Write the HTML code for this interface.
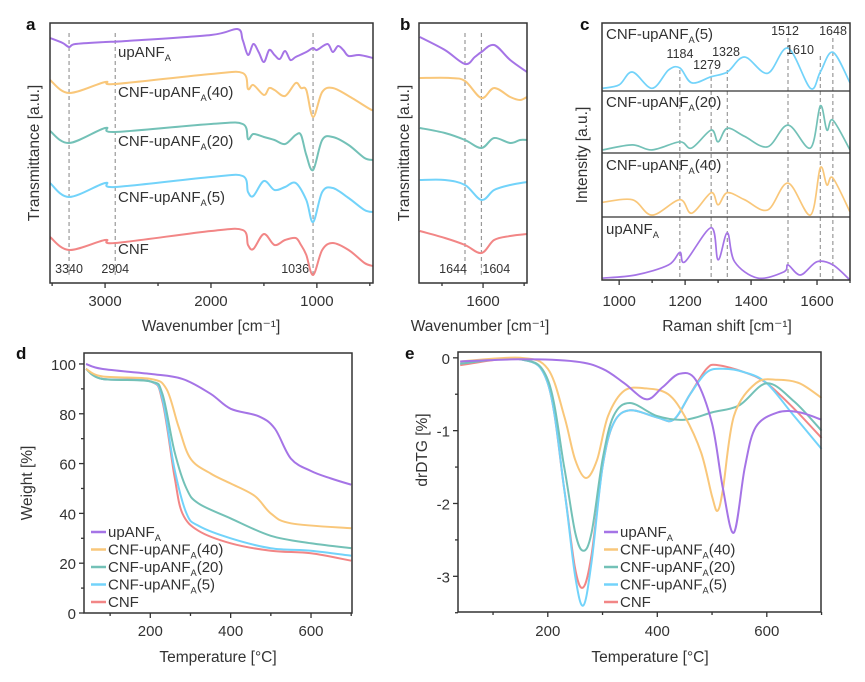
<!DOCTYPE html>
<html><head><meta charset="utf-8">
<style>
html,body{margin:0;padding:0;background:#fff;}
svg{display:block;font-family:"Liberation Sans",Arial,sans-serif;}
</style></head>
<body>
<svg id="fig" width="865" height="682" viewBox="0 0 865 682" xmlns="http://www.w3.org/2000/svg"></svg>
<script>
// ---------- DATA ----------
const aWave = {
 upANF:[[3520,24.5],[3400,24.0],[3340,23.6],[3280,23.9],[3000,24.1],[2800,24.2],[2000,24.8],[1750,25.4],[1700,24.3],[1650,22.8],[1600,23.9],[1550,23.1],[1500,22.1],[1450,23.3],[1400,22.8],[1350,22.4],[1300,23.2],[1250,22.3],[1200,22.6],[1100,23.1],[1036,23.5],[1000,23.3],[900,23.9],[850,23.1],[800,23.7],[750,23.3],[700,22.7],[600,22.8],[470,22.5]],
 c40:[[3520,20.3],[3340,19.0],[3000,20.1],[2904,19.9],[2000,20.9],[1700,21.0],[1650,19.4],[1600,19.8],[1500,18.8],[1450,19.5],[1400,19.3],[1300,18.7],[1200,20.0],[1150,19.5],[1100,19.3],[1036,16.6],[950,19.1],[850,19.5],[700,18.7],[500,17.4],[470,17.3]],
 c20:[[3520,15.2],[3340,14.0],[3000,15.5],[2904,15.1],[2000,15.9],[1700,15.9],[1650,14.4],[1600,14.9],[1500,14.6],[1400,14.3],[1300,13.9],[1200,14.8],[1150,14.8],[1100,12.8],[1036,11.3],[950,14.3],[850,14.6],[700,13.8],[550,12.5],[470,12.3]],
 c5:[[3520,10.0],[3340,8.6],[3000,10.0],[2904,9.6],[2000,10.6],[1700,10.7],[1650,9.1],[1600,8.7],[1500,10.2],[1400,9.3],[1300,9.6],[1200,10.0],[1100,8.3],[1036,6.1],[950,9.1],[850,9.5],[700,8.5],[550,7.3],[470,7.1]],
 cnf:[[3520,4.6],[3340,3.3],[3000,4.3],[2904,4.0],[2000,5.2],[1700,5.3],[1650,3.8],[1600,3.4],[1500,4.9],[1400,3.8],[1300,4.3],[1200,4.5],[1150,3.8],[1100,2.8],[1036,0.8],[950,3.3],[850,4.0],[700,3.3],[550,2.0],[470,1.7]]
};
const aMarks=[3340,2904,1036];
const aTicks=[3000,2000,1000];
const aMinor=[3500,2500,1500,500];
const bWave = {
 upANF:[[1754,24.6],[1693,23.3],[1644,21.9],[1620,22.6],[1604,23.1],[1573,23.8],[1534,22.3],[1493,21.1]],
 c40:[[1754,20.5],[1680,20.5],[1644,20.2],[1604,18.5],[1573,19.5],[1534,18.6],[1510,18.3],[1493,18.6]],
 c20:[[1754,15.5],[1693,15.0],[1644,14.3],[1604,13.5],[1573,14.5],[1534,14.0],[1510,14.3],[1493,14.3]],
 c5:[[1754,10.3],[1693,10.3],[1644,9.8],[1604,8.3],[1573,9.3],[1534,9.8],[1493,10.1]],
 cnf:[[1754,5.2],[1693,4.5],[1644,3.8],[1604,3.0],[1573,4.3],[1534,4.7],[1493,4.9]]
};
const bMarks=[1644,1604];
const bTicks=[1600];
const bMinor=[1700,1500];
const cRaman = {
 c5:[[950,0.04],[1000,0.09],[1040,0.28],[1100,0.04],[1150,0.31],[1184,0.34],[1220,0.12],[1279,0.21],[1328,0.28],[1380,0.5],[1450,0.26],[1512,0.63],[1580,0.04],[1610,0.28],[1648,0.57],[1700,0.12]],
 c20:[[950,0.05],[1040,0.13],[1100,0.05],[1184,0.18],[1220,0.08],[1279,0.37],[1300,0.18],[1328,0.4],[1380,0.27],[1450,0.1],[1512,0.45],[1580,0.08],[1610,0.76],[1630,0.37],[1648,0.53],[1700,0.05]],
 c40:[[950,0.23],[1040,0.27],[1100,0.03],[1184,0.27],[1220,0.06],[1279,0.38],[1300,0.19],[1328,0.38],[1380,0.27],[1450,0.11],[1512,0.53],[1580,0.03],[1610,0.77],[1630,0.5],[1648,0.61],[1700,0.08]],
 upANF:[[950,0.03],[1050,0.08],[1150,0.24],[1184,0.44],[1200,0.29],[1279,0.83],[1300,0.32],[1328,0.75],[1350,0.29],[1420,0.03],[1500,0.13],[1512,0.24],[1550,0.08],[1600,0.29],[1648,0.24],[1700,0.0]]
};
const cMarks=[1184,1279,1328,1512,1610,1648];
const cTicks=[1000,1200,1400,1600];
const dTemp = {
 upANF:[[40,100],[80,98],[200,96],[280,94],[350,88],[400,82],[470,79],[510,74],[550,62],[600,57],[650,54],[700,51.5]],
 c40:[[40,98],[80,95],[200,94],[240,90],[270,75],[300,62],[350,56],[400,52],[460,47],[500,40],[550,36],[700,34]],
 c20:[[40,98],[80,94],[200,93],[230,88],[260,65],[290,50],[320,44],[400,38],[500,31],[600,28],[700,26]],
 c5:[[40,98],[80,94],[200,93],[230,86],[260,58],[290,40],[320,35],[400,30],[500,26],[600,25],[700,23]],
 cnf:[[40,98],[80,94],[200,93],[230,85],[260,55],[280,40],[320,33],[400,28],[500,25],[600,24],[700,21]]
};
const dTicksX=[200,400,600];
const dTicksY=[0,20,40,60,80,100];
const eTemp = {
 upANF:[[40,-0.05],[150,-0.02],[250,-0.05],[300,-0.15],[340,-0.35],[380,-0.57],[410,-0.4],[440,-0.22],[470,-0.3],[500,-0.9],[520,-1.8],[540,-2.4],[560,-1.5],[580,-0.95],[620,-0.75],[660,-0.75],[700,-0.85]],
 c40:[[40,-0.05],[150,0],[200,-0.15],[230,-0.8],[250,-1.4],[270,-1.65],[290,-1.4],[310,-0.8],[340,-0.45],[380,-0.42],[420,-0.5],[450,-0.8],[480,-1.3],[500,-1.9],[510,-2.1],[520,-1.8],[540,-0.8],[580,-0.35],[620,-0.3],[660,-0.35],[700,-0.55]],
 c20:[[40,-0.08],[150,-0.02],[200,-0.3],[230,-1.5],[250,-2.4],[265,-2.65],[280,-2.4],[300,-1.4],[320,-0.8],[350,-0.62],[400,-0.8],[450,-0.85],[500,-0.75],[550,-0.65],[600,-0.35],[650,-0.6],[700,-1.0]],
 c5:[[40,-0.08],[150,-0.02],[200,-0.35],[230,-1.8],[250,-3.0],[265,-3.4],[280,-2.8],[300,-1.5],[320,-0.9],[350,-0.72],[400,-0.82],[430,-0.85],[460,-0.5],[490,-0.2],[520,-0.15],[560,-0.2],[600,-0.35],[650,-0.8],[700,-1.25]],
 cnf:[[40,-0.1],[150,-0.02],[200,-0.35],[230,-1.8],[250,-2.9],[265,-3.15],[280,-2.7],[300,-1.5],[320,-0.9],[350,-0.72],[400,-0.82],[430,-0.85],[460,-0.5],[490,-0.15],[510,-0.1],[560,-0.2],[600,-0.35],[650,-0.7],[700,-1.1]]
};
const eTicksX=[200,400,600];
const eTicksY=[0,-1,-2,-3];

const COL={upANF:"#a574e6",c40:"#f9c77a",c20:"#73c1b7",c5:"#72d3fa",cnf:"#f28686"};
const NAME={upANF:"upANF",c40:"CNF-upANF",c20:"CNF-upANF",c5:"CNF-upANF",cnf:"CNF"};
const SUF={upANF:"",c40:"(40)",c20:"(20)",c5:"(5)",cnf:""};

const svg=document.getElementById('fig');
const NS="http://www.w3.org/2000/svg";
function mk(tag,attrs,parent){const e=document.createElementNS(NS,tag);for(const k in attrs)e.setAttribute(k,attrs[k]);(parent||svg).appendChild(e);return e;}
function lin(d0,d1,r0,r1){return v=>r0+(v-d0)/(d1-d0)*(r1-r0);}
function smooth(pts){let d="M"+pts[0][0].toFixed(1)+","+pts[0][1].toFixed(1);
 for(let i=0;i<pts.length-1;i++){const p0=pts[i-1]||pts[i],p1=pts[i],p2=pts[i+1],p3=pts[i+2]||p2;
  const c1=[p1[0]+(p2[0]-p0[0])/6,p1[1]+(p2[1]-p0[1])/6],c2=[p2[0]-(p3[0]-p1[0])/6,p2[1]-(p3[1]-p1[1])/6];
  d+="C"+c1[0].toFixed(1)+","+c1[1].toFixed(1)+" "+c2[0].toFixed(1)+","+c2[1].toFixed(1)+" "+p2[0].toFixed(1)+","+p2[1].toFixed(1);}
 return d;}
function series(data,x,y,color,name,w){const p=mk('path',{d:smooth(data.map(q=>[x(q[0]),y(q[1])])),fill:"none",stroke:color,"stroke-width":w||2});
 
 return p;}
function text(str,x,y,attrs,name){const t=mk('text',Object.assign({x:x,y:y,fill:"#333","font-size":15},attrs||{}));t.textContent=str;
 
 return t;}
function sublabel(key,x,y,fs,name){const t=mk('text',{x:x,y:y,fill:"#333","font-size":fs});
 
 
 t.appendChild(document.createTextNode(NAME[key]));
 if(key!=="cnf"){const s=mk('tspan',{"font-size":fs*0.62,dy:4},t);s.textContent="A";
  const s2=mk('tspan',{dy:-4},t);s2.textContent=SUF[key];}
 return t;}
function box(x0,y0,x1,y1,name){const r=mk('rect',{x:x0,y:y0,width:x1-x0,height:y1-y0,fill:"none",stroke:"#333","stroke-width":1.5});
 
 }
function dash(x,y0,y1,name){const l=mk('line',{x1:x,x2:x,y1:y0,y2:y1,stroke:"#999","stroke-width":1.2,"stroke-dasharray":"4,3"});
 
 }
function xtick(x,y,len){mk('line',{x1:x,x2:x,y1:y,y2:y+len,stroke:"#333","stroke-width":1.3});}
function ytick(x,y,len){mk('line',{x1:x,x2:x-len,y1:y,y2:y,stroke:"#333","stroke-width":1.3});}
function letter(s,x,y){text(s,x,y,{"font-size":17,"font-weight":"bold",fill:"#111"},"panel-label-"+s);}
const ORDER=["upANF","c40","c20","c5","cnf"];

{const x=lin(3520,470,50,373),y=lin(0,26,283,23);
 aMarks.forEach(m=>dash(x(m),33,276,"dash-a-"+m));
 ORDER.forEach(k=>series(aWave[k],x,y,COL[k],"ftir-a-"+k));
 box(50,23,373,283,"plot-area-a");
 aTicks.forEach(t=>{xtick(x(t),283,5);text(String(t),x(t),306,{"text-anchor":"middle","font-size":15},"xtick-a-"+t);});
 aMinor.forEach(t=>xtick(x(t),283,3));
 aMarks.forEach(m=>text(String(m),x(m)+(m===1036?-4:0),273,{"text-anchor":m===1036?"end":"middle","font-size":12.5},"peak-a-"+m));
 const ly={upANF:57,c40:97,c20:146,c5:202,cnf:254};
 ORDER.forEach(k=>sublabel(k,118,ly[k],15,"label-a-"+k));
 text("Wavenumber [cm\u207B\u00B9]",211,331,{"text-anchor":"middle","font-size":15.5},"x-axis-title-a");
 text("Transmittance [a.u.]",0,0,{"text-anchor":"middle","font-size":15.5,transform:"translate(39,153) rotate(-90)"},"y-axis-title-a");
 letter("a",26,30);}
{const x=lin(1756,1493,419,527),y=lin(0,26,283,23);
 bMarks.forEach(m=>dash(x(m),33,276,"dash-b-"+m));
 ORDER.forEach(k=>series(bWave[k],x,y,COL[k],"ftir-b-"+k));
 box(419,23,527,283,"plot-area-b");
 bTicks.forEach(t=>{xtick(x(t),283,5);text(String(t),x(t),306,{"text-anchor":"middle","font-size":15},"xtick-b-"+t);});
 bMinor.forEach(t=>xtick(x(t),283,3));
 text("1644",x(1644)+2,273,{"text-anchor":"end","font-size":12.5},"peak-b-1644");
 text("1604",x(1604)+1,273,{"text-anchor":"start","font-size":12.5},"peak-b-1604");
 text("Wavenumber [cm\u207B\u00B9]",480,331,{"text-anchor":"middle","font-size":15.5},"x-axis-title-b");
 text("Transmittance [a.u.]",0,0,{"text-anchor":"middle","font-size":15.5,transform:"translate(409,153) rotate(-90)"},"y-axis-title-b");
 letter("b",400,30);}
{const x=lin(948,1700,602,850);
 const sub={c5:[23,91],c20:[91,153],c40:[153,217],upANF:[217,280]};
 cMarks.forEach(m=>dash(x(m),m===1512||m===1648?38:(m===1610?56:70),280,"dash-c-"+m));
 ["c5","c20","c40","upANF"].forEach(k=>{const y=lin(0,1,sub[k][1],sub[k][0]);series(cRaman[k],x,y,COL[k],"raman-"+k,1.7);});
 box(602,23,850,280,"plot-area-c");
 [91,153,217].forEach((yy,i)=>{const l=mk('line',{x1:602,x2:850,y1:yy,y2:yy,stroke:"#333","stroke-width":1.3});
  
  });
 cTicks.forEach(t=>{xtick(x(t),280,5);text(String(t),x(t),306,{"text-anchor":"middle","font-size":15},"xtick-c-"+t);});
 [1100,1300,1500,1700].forEach(t=>xtick(x(t),280,3));
 sublabel("c5",606,39,15,"label-c-c5");sublabel("c20",606,107,15,"label-c-c20");
 sublabel("c40",606,170,15,"label-c-c40");sublabel("upANF",606,234,15,"label-c-upANF");
 const pl=[[1512,785,35],[1648,833,35],[1184,680,58],[1328,726,56],[1279,707,69],[1610,800,54]];
 pl.forEach(p=>text(String(p[0]),p[1],p[2],{"text-anchor":"middle","font-size":12.5},"peak-c-"+p[0]));
 text("Raman shift [cm\u207B\u00B9]",727,331,{"text-anchor":"middle","font-size":15.5},"x-axis-title-c");
 text("Intensity [a.u.]",0,0,{"text-anchor":"middle","font-size":15.5,transform:"translate(587,155) rotate(-90)"},"y-axis-title-c");
 letter("c",580,30);}
{const x=lin(35,702,84,352),y=lin(0,104.4,613,353);
 ORDER.slice().reverse().forEach(k=>series(dTemp[k],x,y,COL[k],"tga-"+k));
 box(84,353,352,613,"plot-area-d");
 dTicksX.forEach(t=>{xtick(x(t),613,5);text(String(t),x(t),636,{"text-anchor":"middle","font-size":15},"xtick-d-"+t);});
 [100,300,500,700].forEach(t=>xtick(x(t),613,3));
 dTicksY.forEach(t=>{ytick(84,y(t),5);text(String(t),76,y(t)+6,{"text-anchor":"end","font-size":15},"ytick-d-"+t);});
 [10,30,50,70,90].forEach(t=>ytick(84,y(t),3));
 ORDER.forEach((k,i)=>{const yy=532+i*17.5;mk('line',{x1:91,x2:106,y1:yy,y2:yy,stroke:COL[k],"stroke-width":2.5});
  sublabel(k,108,yy+5,15,"legend-d-"+k);});
 text("Temperature [\u00B0C]",218,662,{"text-anchor":"middle","font-size":15.5},"x-axis-title-d");
 text("Weight  [%]",0,0,{"text-anchor":"middle","font-size":15.5,transform:"translate(32,483) rotate(-90)"},"y-axis-title-d");
 letter("d",16,359);}
{const x=lin(36,699,458,821),y=lin(-3.49,0.08,612,352);
 ORDER.slice().reverse().forEach(k=>series(eTemp[k],x,y,COL[k],"drdtg-"+k));
 box(458,352,821,612,"plot-area-e");
 eTicksX.forEach(t=>{xtick(x(t),612,5);text(String(t),x(t),636,{"text-anchor":"middle","font-size":15},"xtick-e-"+t);});
 [100,300,500,700].forEach(t=>xtick(x(t),612,3));
 eTicksY.forEach(t=>{ytick(458,y(t),5);text(String(t),450,y(t)+6,{"text-anchor":"end","font-size":15},"ytick-e-"+t);});
 [-0.5,-1.5,-2.5,-3.5].forEach(t=>ytick(458,y(t),3));
 ORDER.forEach((k,i)=>{const yy=532+i*17.5;mk('line',{x1:604,x2:618,y1:yy,y2:yy,stroke:COL[k],"stroke-width":2.5});
  sublabel(k,620,yy+5,15,"legend-e-"+k);});
 text("Temperature [\u00B0C]",650,662,{"text-anchor":"middle","font-size":15.5},"x-axis-title-e");
 text("drDTG [%]",0,0,{"text-anchor":"middle","font-size":15.5,transform:"translate(427,450) rotate(-90)"},"y-axis-title-e");
 letter("e",405,359);}
</script>
</body></html>
